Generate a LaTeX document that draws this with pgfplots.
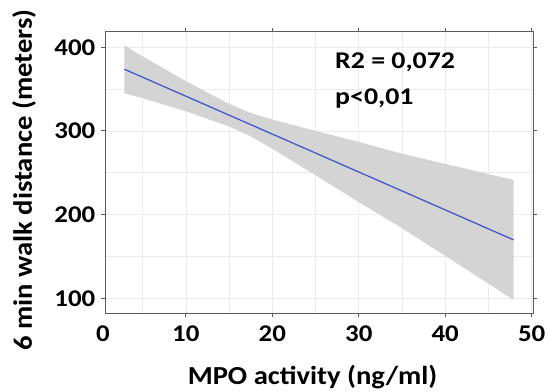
\documentclass[border=0pt]{standalone}
\usepackage{pgfplots}
\pgfplotsset{compat=1.18}
\usepackage{fontspec}
\setmainfont{Carlito}
\newfontfamily\tickfont{Carlito}[FakeStretch=1.12]
\newfontfamily\annfont{Carlito}[FakeStretch=1.16]
\newfontfamily\ylabfont{Carlito}[FakeStretch=1.08]
\newfontfamily\xlabfont{Carlito}[FakeStretch=1.1]
\definecolor{bandgray}{RGB}{212,212,212}
\definecolor{lineblue}{RGB}{60,82,200}
\definecolor{gridgray}{RGB}{235,235,235}
\definecolor{axgray}{RGB}{90,90,90}
\begin{document}
\begin{tikzpicture}[x=1pt,y=1pt]
\begin{axis}[
  scale only axis,
  width=428pt, height=281.6pt,
  xmin=0.65, xmax=50.15,
  ymin=82, ymax=418.6,
  xtick={10,20,30,40,50},
  ytick={100,200,300,400},
  minor xtick={5,15,25,35,45},
  minor ytick={150,250,350},
  grid=both,
  major grid style={gridgray, line width=0.6pt},
  minor grid style={gridgray, line width=0.6pt},
  axis line style={axgray, line width=0.9pt},
  tick style={axgray, line width=0.9pt},
  tick align=outside,
  major tick length=3.5pt,
  minor tick length=0pt,
  /pgf/number format/assume math mode=true,
  ticklabel style={font=\tickfont\fontsize{24}{26}\selectfont\bfseries, text=black, inner sep=0pt},
  xticklabel style={anchor=north, yshift=-9pt},
  yticklabel style={anchor=east, xshift=-6pt},
  xlabel={MPO activity (ng/ml)},
  ylabel={6 min walk distance (meters)},
  xlabel style={font=\xlabfont\fontsize{26}{28}\selectfont\bfseries, at={(axis description cs:0.4848,-0.2546)}, anchor=base, inner sep=0pt},
  ylabel style={font=\ylabfont\fontsize{26.5}{28}\selectfont\bfseries, at={(axis description cs:-0.1706,0.4734)}, anchor=base, inner sep=0pt},
  clip=false,
]
\addplot[fill=bandgray, draw=none] coordinates {
(2.9,402.5) (5,389.1) (10,359.5) (15,332.3) (17.5,321.5) (20,313.7) (25,300.0) (30,286.9) (35,272.7) (40,260.6) (45,248.4) (47.9,241.5)
(47.9,98.1) (45,117.4) (40,150.6) (35,183.7) (30,214.9) (25,247.0) (20,278.7) (17.5,293.5) (15,305.3) (10,323.5) (5,339.1) (2.9,344.9)
} -- cycle;
\addplot[lineblue, line width=1.2pt] coordinates {(2.9,373.7) (47.9,169.8)};
\node[anchor=north, inner sep=0pt, font=\tickfont\fontsize{24}{26}\selectfont\bfseries, yshift=-12.7pt] at (rel axis cs:-0.0047,0) {0};
\node[anchor=base west, inner sep=0pt, font=\annfont\fontsize{24}{26}\selectfont\bfseries] at (rel axis cs:0.5374,0.870) {R2 = 0,072};
\node[anchor=base west, inner sep=0pt, font=\annfont\fontsize{24}{26}\selectfont\bfseries] at (rel axis cs:0.5374,0.7398) {p<0,01};
\end{axis}
\pgfresetboundingbox
\path (-105,-77.7) rectangle (444,313.3);
\end{tikzpicture}
\end{document}
